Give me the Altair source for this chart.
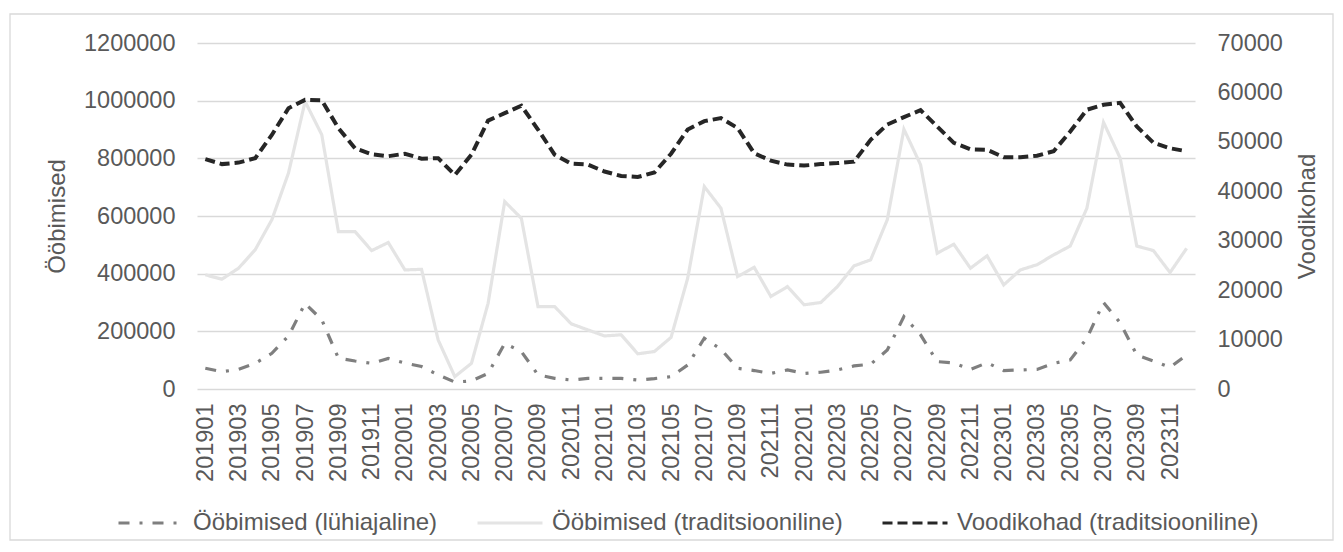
import altair as alt
import pandas as pd

months = [f"{y}{m:02d}" for y in range(2019, 2024) for m in range(1, 13)]
tick_months = months[::2]

short_stays = [72000, 60000, 68000, 89000, 124000, 184000, 297000, 240000, 107000, 97000,
               89000, 106000, 90000, 78000, 49000, 24000, 28000, 54000, 158000, 130000,
               49000, 37000, 31000, 37000, 37000, 37000, 31000, 36000, 43000, 83000,
               176000, 138000, 72000, 64000, 54000, 66000, 54000, 58000, 66000, 80000,
               86000, 135000, 251000, 188000, 95000, 90000, 68000, 91000, 64000, 66000,
               68000, 89000, 101000, 176000, 300000, 230000, 118000, 97000, 75000, 118000]

trad_stays = [396000, 381000, 419000, 483000, 587000, 749000, 997000, 882000, 546000, 546000,
              480000, 508000, 413000, 415000, 170000, 43000, 89000, 297000, 650000, 592000,
              286000, 286000, 226000, 205000, 184000, 188000, 122000, 130000, 179000, 384000,
              702000, 627000, 390000, 422000, 321000, 355000, 292000, 300000, 355000, 427000,
              448000, 587000, 901000, 778000, 471000, 502000, 419000, 462000, 361000, 413000,
              431000, 465000, 496000, 627000, 925000, 801000, 496000, 480000, 404000, 488000]

bed_places = [46500, 45500, 45800, 46700, 51400, 56800, 58500, 58400, 52800, 48700,
              47500, 47100, 47600, 46600, 46700, 43300, 47400, 54300, 55800, 57300,
              52500, 47400, 45600, 45400, 44000, 43100, 42900, 43800, 47600, 52500,
              54200, 54800, 52800, 47700, 46200, 45400, 45200, 45500, 45700, 46000,
              50400, 53500, 55000, 56400, 53100, 49800, 48500, 48400, 46900, 46900,
              47200, 48100, 52100, 56500, 57500, 57900, 53100, 49800, 48700, 48100]

s_short = "Ööbimised (lühiajaline)"
s_trad = "Ööbimised (traditsiooniline)"
s_beds = "Voodikohad (traditsiooniline)"
series_names = [s_short, s_trad, s_beds]
series_colors = ["#7f7f7f", "#e4e4e4", "#262626"]
series_dash = [[11, 10, 3, 10], [1, 0], [10, 5]]

rows = []
for i, m in enumerate(months):
    rows.append({"month": m, "series": s_trad, "value": trad_stays[i], "side": "left", "ord": 0})
    rows.append({"month": m, "series": s_short, "value": short_stays[i], "side": "left", "ord": 1})
    rows.append({"month": m, "series": s_beds, "value": bed_places[i], "side": "right", "ord": 2})
df = pd.DataFrame(rows)

FONT = "Liberation Sans"
TXT = "#595959"
W, H = 998, 346


def make_legend():
    return alt.Legend(
        title=None, orient="none", direction="horizontal",
        legendX=-80, legendY=446,
        symbolType="stroke", symbolSize=4225, symbolStrokeWidth=3,
        labelFontSize=24, labelFont=FONT, labelColor=TXT, labelOffset=8,
        columnPadding=33, padding=0, labelLimit=400,
    )


color_enc = alt.Color("series:N", scale=alt.Scale(domain=series_names, range=series_colors),
                      legend=make_legend())
dash_enc = alt.StrokeDash("series:N", scale=alt.Scale(domain=series_names, range=series_dash),
                          legend=make_legend())

x_enc = alt.X(
    "month:O", sort=months, title=None,
    scale=alt.Scale(type="point", padding=0.5),
    axis=alt.Axis(values=tick_months, labelAngle=270, labelFontSize=23.5, labelFont=FONT,
                  labelColor=TXT, ticks=False, tickSize=0, domain=False, grid=False,
                  labelPadding=14, labelLimit=200),
)

base = alt.Chart(df).encode(x=x_enc, color=color_enc, strokeDash=dash_enc, order="ord:Q")

left = base.transform_filter(alt.datum.side == "left").mark_line(strokeWidth=3.2).encode(
    y=alt.Y("value:Q", scale=alt.Scale(domain=[0, 1200000], nice=False),
            axis=alt.Axis(orient="left", values=list(range(0, 1200001, 200000)), format="d",
                          title="Ööbimised", titleFontSize=24, titleFont=FONT, titleColor=TXT,
                          titleFontWeight="normal", titleAngle=270, titleBaseline="middle",
                          titleAlign="center", titleX=-140, titleY=H / 2,
                          labelFontSize=23.5, labelFont=FONT, labelColor=TXT, labelPadding=22,
                          ticks=False, tickSize=0, domain=False, grid=True,
                          gridColor="#d9d9d9", gridWidth=1.3)),
)

right = base.transform_filter(alt.datum.side == "right").mark_line(strokeWidth=4).encode(
    y=alt.Y("value:Q", scale=alt.Scale(domain=[0, 70000], nice=False),
            axis=alt.Axis(orient="right", values=list(range(0, 70001, 10000)), format="d",
                          title="Voodikohad", titleFontSize=24, titleFont=FONT, titleColor=TXT,
                          titleFontWeight="normal", titleAngle=270, titleBaseline="middle",
                          titleAlign="center", titleX=112, titleY=H / 2,
                          labelFontSize=23.5, labelFont=FONT, labelColor=TXT, labelPadding=22,
                          ticks=False, tickSize=0, domain=False, grid=False)),
)

frame = alt.Chart(pd.DataFrame({"k": [0]})).mark_rect(
    fill="white", fillOpacity=0, stroke="#d9d9d9", strokeWidth=1.3
).encode(
    x=alt.value(-187), x2=alt.value(1136), y=alt.value(-29), y2=alt.value(497)
)

chart = alt.layer(frame, left, right).resolve_scale(y="independent").properties(
    width=W, height=H,
    autosize=alt.AutoSizeParams(type="none"),
    padding={"left": 189, "top": 35, "right": 140, "bottom": 152},
    background="white",
).configure_view(stroke=None)

chart.save("out.html", embed_options={"renderer": "svg", "actions": False})
